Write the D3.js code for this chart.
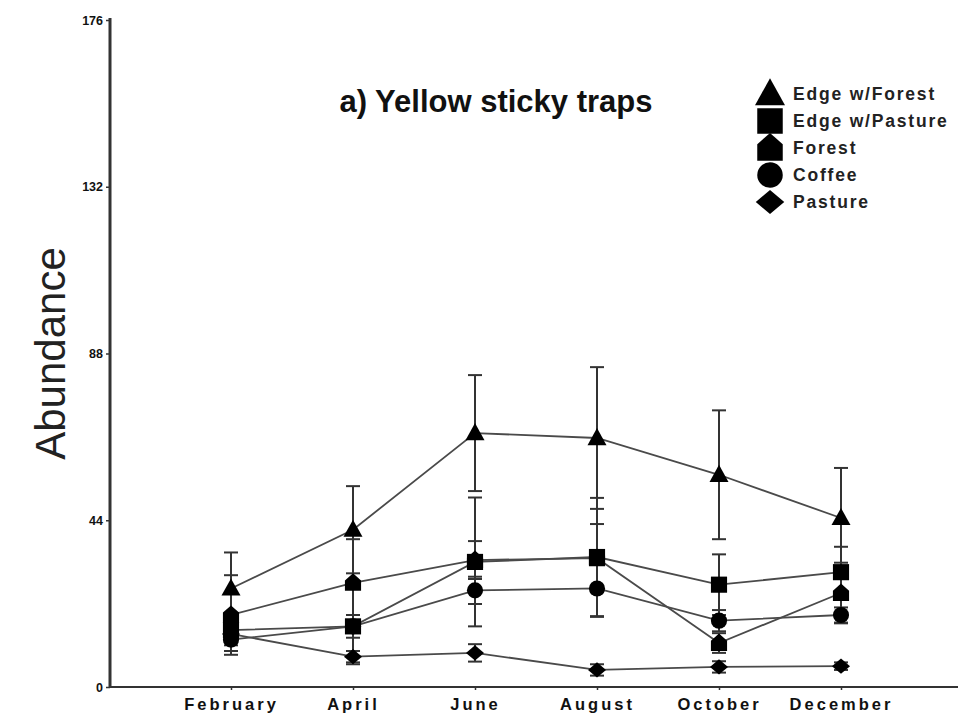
<!DOCTYPE html>
<html>
<head>
<meta charset="utf-8">
<script src="https://cdn.jsdelivr.net/npm/d3@7"></script>
<style>
  html, body { margin: 0; padding: 0; background: #fff; }
  svg { display: block; font-family: "Liberation Sans", Arial, sans-serif; }
</style>
</head>
<body>
<svg id="chart" width="958" height="716"></svg>
<script>
// Sampling months (x categories)
const months = ["February", "April", "June", "August", "October", "December"];

// Mean abundance per habitat
const edgeForest  = [26, 41.5, 67, 65.7, 56, 44.6];
const edgePasture = [15, 16, 33, 34.3, 27, 30.3];
const forest      = [19, 27.5, 33.5, 34, 11.6, 24.8];
const coffee      = [12.5, 16, 25.5, 26, 17.5, 19];
const pasture     = [14, 8, 9, 4.5, 5.3, 5.5];

// Error (± one SE) per habitat
const edgeForestErr  = [9.5, 11.5, 15.3, 18.7, 17, 13.2];
const edgePastureErr = [4, 10, 17, 15.6, 8, 6.7];
const forestErr      = [10.5, 11.5, 5, 9, 2.6, 8];
const coffeeErr      = [3, 3, 3.6, 7.5, 2.8, 2];
const pastureErr     = [2, 1.5, 2.3, 1.5, 1.5, 1];

// Y axis ticks
const yTicks = [0, 44, 88, 132, 176];

const seriesNames = ["Edge w/Forest", "Edge w/Pasture", "Forest", "Coffee", "Pasture"];
const shapes = ["triangle", "square", "house", "circle", "diamond"];

const series = [
  { name: seriesNames[0], shape: shapes[0], values: edgeForest,  err: edgeForestErr },
  { name: seriesNames[1], shape: shapes[1], values: edgePasture, err: edgePastureErr },
  { name: seriesNames[2], shape: shapes[2], values: forest,      err: forestErr },
  { name: seriesNames[3], shape: shapes[3], values: coffee,      err: coffeeErr },
  { name: seriesNames[4], shape: shapes[4], values: pasture,     err: pastureErr }
];

const svg = d3.select("#chart");

const x = d3.scaleLinear().domain([0, months.length - 1]).range([231, 841]);
const y = d3.scaleLinear().domain([0, 176]).range([687, 20]);

const axisColor = "#333";

// Marker path generator, r = half size
function markerPath(shape, r) {
  const p = d3.path();
  if (shape === "triangle") {
    p.moveTo(0, -r * 1.05); p.lineTo(r, r * 0.75); p.lineTo(-r, r * 0.75); p.closePath();
  } else if (shape === "square") {
    p.rect(-r * 0.85, -r * 0.85, r * 1.7, r * 1.7);
  } else if (shape === "house") {
    p.moveTo(0, -r); p.lineTo(r * 0.85, -r * 0.25); p.lineTo(r * 0.85, r * 0.85);
    p.lineTo(-r * 0.85, r * 0.85); p.lineTo(-r * 0.85, -r * 0.25); p.closePath();
  } else if (shape === "circle") {
    p.arc(0, 0, r * 0.85, 0, Math.PI * 2);
  } else if (shape === "diamond") {
    p.moveTo(0, -r * 0.8); p.lineTo(r * 0.95, 0); p.lineTo(0, r * 0.8); p.lineTo(-r * 0.95, 0); p.closePath();
  }
  return p.toString();
}

// Axes
const yAxis = d3.axisLeft(y).tickValues(yTicks).tickSize(4).tickPadding(3).tickFormat(d3.format("d"));
const gy = svg.append("g").attr("transform", "translate(110,0)").call(yAxis);
gy.select(".domain").attr("stroke", axisColor).attr("stroke-width", 3).attr("d", `M0,${y(176) - 2}V${y(0) + 1}`);
gy.selectAll(".tick line").attr("stroke", axisColor).attr("stroke-width", 1.5);
gy.selectAll(".tick text").attr("fill", "#111").attr("font-size", 12.5).attr("font-weight", "bold")
  .attr("font-family", "'Liberation Sans', Arial, sans-serif");

const xAxis = d3.axisBottom(x).tickValues(d3.range(months.length)).tickSize(3).tickPadding(6)
  .tickFormat(i => months[i]);
const gx = svg.append("g").attr("transform", `translate(0,${y(0)})`).call(xAxis);
gx.select(".domain").attr("stroke", axisColor).attr("stroke-width", 2).attr("d", "M109,0H958");
gx.selectAll(".tick line").attr("stroke", axisColor).attr("stroke-width", 1.5);
gx.selectAll(".tick text").attr("fill", "#111").attr("font-size", 16.5).attr("font-weight", "bold")
  .attr("letter-spacing", "3px").attr("dy", "0.85em")
  .attr("font-family", "'Liberation Sans', Arial, sans-serif");

// Y axis title
svg.append("text")
  .attr("transform", `translate(65,${(y(0) + y(176)) / 2}) rotate(-90)`)
  .attr("text-anchor", "middle")
  .attr("font-size", 42)
  .attr("fill", "#222")
  .text("Abundance");

// Chart title
svg.append("text")
  .attr("x", 496).attr("y", 112)
  .attr("text-anchor", "middle")
  .attr("font-size", 31)
  .attr("font-weight", "bold")
  .attr("fill", "#111")
  .text("a) Yellow sticky traps");

// Connecting lines
const line = d3.line().x((d, i) => x(i)).y(d => y(d));
svg.append("g").selectAll("path").data(series).join("path")
  .attr("d", s => line(s.values))
  .attr("fill", "none")
  .attr("stroke", "#4a4a4a")
  .attr("stroke-width", 1.8);

// Error bars
const capW = 7;
const eg = svg.append("g").attr("stroke", "#333").attr("stroke-width", 2);
series.forEach(s => {
  s.values.forEach((v, i) => {
    const cx = x(i), hi = y(v + s.err[i]), lo = y(Math.max(0, v - s.err[i]));
    eg.append("line").attr("x1", cx).attr("x2", cx).attr("y1", hi).attr("y2", lo);
    eg.append("line").attr("x1", cx - capW).attr("x2", cx + capW).attr("y1", hi).attr("y2", hi);
    eg.append("line").attr("x1", cx - capW).attr("x2", cx + capW).attr("y1", lo).attr("y2", lo);
  });
});

// Markers
const mg = svg.append("g");
series.forEach(s => {
  mg.selectAll(null).data(s.values).join("path")
    .attr("transform", (d, i) => `translate(${x(i)},${y(d)})`)
    .attr("d", markerPath(s.shape, 9.5))
    .attr("fill", "#000");
});

// Legend
const legend = svg.append("g").attr("transform", "translate(770,94)");
const rowH = 27;
series.forEach((s, k) => {
  const g = legend.append("g").attr("transform", `translate(0,${k * rowH})`);
  g.append("path").attr("d", markerPath(s.shape, 15)).attr("fill", "#000");
  g.append("text")
    .attr("x", 23).attr("y", 6)
    .attr("font-size", 17.5)
    .attr("font-weight", "bold")
    .attr("letter-spacing", "1.8px")
    .attr("fill", "#222")
    .text(s.name);
});
</script>
</body>
</html>
